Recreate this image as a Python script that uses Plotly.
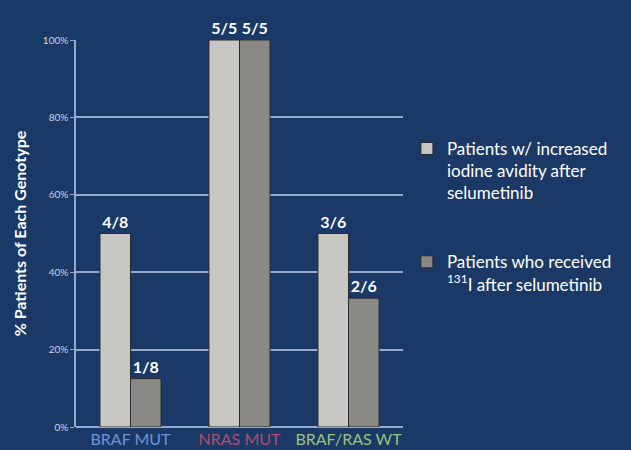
import plotly.graph_objects as go

categories = ["BRAF MUT", "NRAS MUT", "BRAF/RAS WT"]
cat_colors = ["#6f93d6", "#b34d6e", "#98c27f"]
avidity_pct = [50, 100, 50]
avidity_txt = ["4/8", "5/5", "3/6"]
received_pct = [12.5, 100, 33.3]
received_txt = ["1/8", "5/5", "2/6"]
y_ticks = [0, 20, 40, 60, 80, 100]
y_ticklabels = ["0%", "20%", "40%", "60%", "80%", "100%"]

bg = "#1b3966"
font_family = "Lato, Open Sans, sans-serif"

fig = go.Figure()
fig.add_trace(go.Bar(
    x=categories, y=avidity_pct, text=avidity_txt, textposition="outside",
    name="Patients w/ increased<br>iodine avidity after<br>selumetinib",
    legendgroup="a",
    marker=dict(color="#c9c7c4", line=dict(color="#2a2a2a", width=1)),
    textfont=dict(color="white", size=16, family=font_family, weight="bold"),
    cliponaxis=False,
))
fig.add_trace(go.Bar(
    x=categories, y=received_pct, text=received_txt, textposition="outside",
    name="Patients who received<br><sup>131</sup>I after selumetinib",
    legendgroup="b",
    marker=dict(color="#8b8985", line=dict(color="#2a2a2a", width=1)),
    textfont=dict(color="white", size=16, family=font_family, weight="bold"),
    cliponaxis=False,
))

ticktext = [f"<span style='color:{c}'>{t}</span>" for t, c in zip(categories, cat_colors)]

fig.update_layout(
    width=631, height=450,
    paper_bgcolor=bg, plot_bgcolor=bg,
    margin=dict(l=76, r=228, t=40, b=23),
    barmode="group", bargap=0.44, bargroupgap=0,
    font=dict(family=font_family, color="white"),
    showlegend=True,
    legend=dict(
        x=1.012, y=0.765, xanchor="left", yanchor="top",
        bgcolor="rgba(0,0,0,0)", font=dict(size=17, color="white"),
        tracegroupgap=44, itemwidth=30, valign="top",
    ),
    xaxis=dict(
        tickmode="array", tickvals=categories, ticktext=ticktext,
        tickfont=dict(size=16), showgrid=False, showline=False, ticks="",
        ticklabelstandoff=1, automargin=False,
    ),
    yaxis=dict(
        range=[0, 100], tickvals=y_ticks, ticktext=y_ticklabels,
        tickfont=dict(size=10, color="#c8d4ea"),
        showgrid=True, gridcolor="#93aad0", gridwidth=1.5,
        showline=True, linecolor="#93aad0", linewidth=1.5,
        ticks="outside", ticklen=4, tickcolor="#93aad0",
        zeroline=True, zerolinecolor="#93aad0",
        automargin=False,
        title=dict(text="% Patients of Each Genotype",
                   font=dict(size=16, color="white", weight="bold"), standoff=12),
    ),
)

fig.write_html("out.html")
